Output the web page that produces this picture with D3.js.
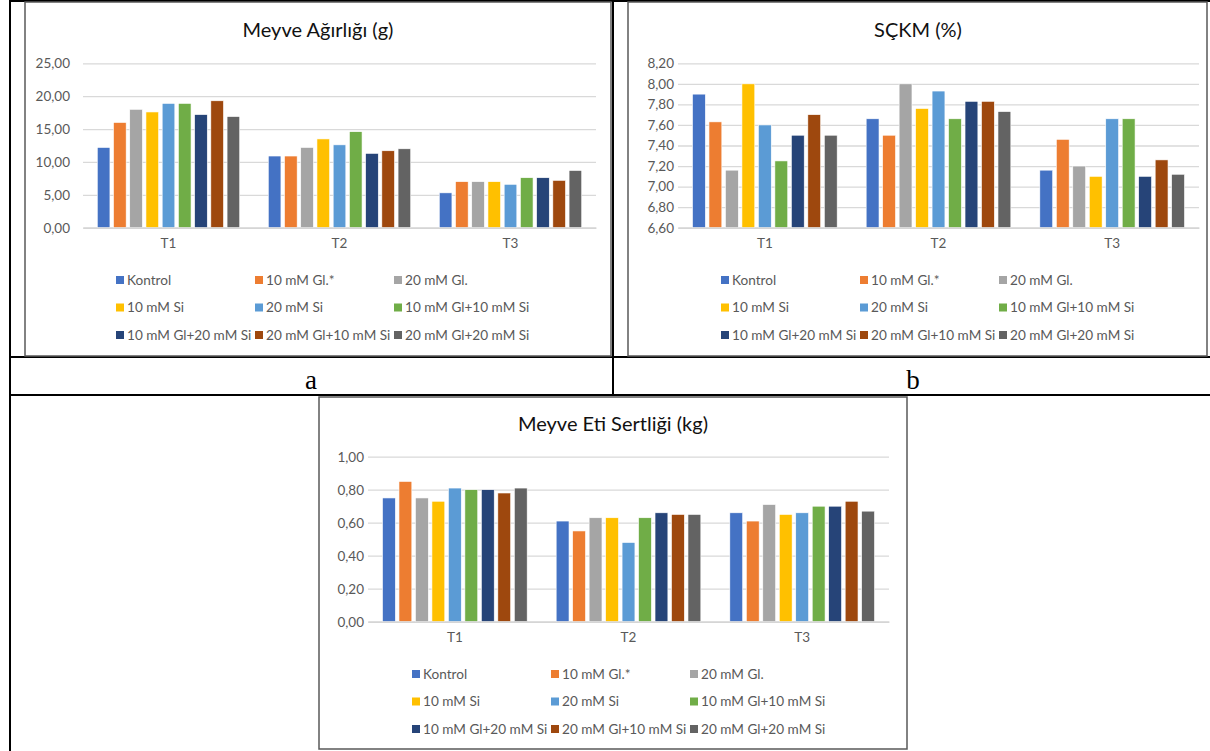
<!DOCTYPE html>
<html>
<head>
<meta charset="utf-8">
<script src="https://cdn.jsdelivr.net/npm/d3@7"></script>
<style>
  html, body { margin: 0; padding: 0; background: #fff; }
  svg { display: block; }
  text { font-family: Lato, "Open Sans", sans-serif; }
</style>
</head>
<body>
<svg id="page" width="1210" height="751"></svg>
<script>
// Sampling times
const categories = ["T1", "T2", "T3"];

// Treatments (legend order)
const treatments = [
  "Kontrol", "10 mM Gl.*", "20 mM Gl.",
  "10 mM Si", "20 mM Si", "10 mM Gl+10 mM Si",
  "10 mM Gl+20 mM Si", "20 mM Gl+10 mM Si", "20 mM Gl+20 mM Si"
];

const treatmentColors = [
  "#4472C4", "#ED7D31", "#A5A5A5",
  "#FFC000", "#5B9BD5", "#70AD47",
  "#264478", "#9E480E", "#636363"
];

// Fruit weight (g): one row per treatment, values for T1, T2, T3
const fruitWeight = [
  [12.2, 10.9, 5.3],
  [16.0, 10.9, 7.0],
  [18.0, 12.2, 7.0],
  [17.6, 13.5, 7.0],
  [18.9, 12.6, 6.6],
  [18.9, 14.6, 7.6],
  [17.2, 11.3, 7.6],
  [19.3, 11.7, 7.2],
  [16.9, 12.0, 8.7]
];

// Soluble solids (%)
const solubleSolids = [
  [7.90, 7.66, 7.16],
  [7.63, 7.50, 7.46],
  [7.16, 8.00, 7.20],
  [8.00, 7.76, 7.10],
  [7.60, 7.93, 7.66],
  [7.25, 7.66, 7.66],
  [7.50, 7.83, 7.10],
  [7.70, 7.83, 7.26],
  [7.50, 7.73, 7.12]
];

// Flesh firmness (kg)
const fleshFirmness = [
  [0.75, 0.61, 0.66],
  [0.85, 0.55, 0.61],
  [0.75, 0.63, 0.71],
  [0.73, 0.63, 0.65],
  [0.81, 0.48, 0.66],
  [0.80, 0.63, 0.70],
  [0.80, 0.66, 0.70],
  [0.78, 0.65, 0.73],
  [0.81, 0.65, 0.67]
];

// Y tick labels
const weightTicks = [0, 5, 10, 15, 20, 25];
const solidsTicks = [6.6, 6.8, 7.0, 7.2, 7.4, 7.6, 7.8, 8.0, 8.2];
const firmnessTicks = [0, 0.2, 0.4, 0.6, 0.8, 1.0];

const svg = d3.select("#page");
const fmt = v => d3.format(".2f")(v).replace(".", ",");

// Table rules of the surrounding document
const rules = svg.append("g").attr("stroke", "#000").attr("stroke-width", 2);
rules.append("line").attr("x1", 10).attr("x2", 1210).attr("y1", 1).attr("y2", 1);
rules.append("line").attr("x1", 10).attr("x2", 10).attr("y1", 0).attr("y2", 751);
rules.append("line").attr("x1", 613).attr("x2", 613).attr("y1", 0).attr("y2", 395);
rules.append("line").attr("x1", 10).attr("x2", 1210).attr("y1", 357).attr("y2", 357);
rules.append("line").attr("x1", 10).attr("x2", 1210).attr("y1", 395).attr("y2", 395);

svg.append("text").attr("x", 311).attr("y", 389).attr("text-anchor", "middle")
  .style("font-family", "'Liberation Serif', serif").style("font-size", "27px").text("a");
svg.append("text").attr("x", 913).attr("y", 389).attr("text-anchor", "middle")
  .style("font-family", "'Liberation Serif', serif").style("font-size", "27px").text("b");

function drawChart(cfg) {
  const g = svg.append("g");
  // chart area frame
  g.append("rect")
    .attr("x", cfg.frame[0]).attr("y", cfg.frame[1])
    .attr("width", cfg.frame[2] - cfg.frame[0]).attr("height", cfg.frame[3] - cfg.frame[1])
    .attr("fill", "#fff").attr("stroke", "#595959").attr("stroke-width", 1.5);

  g.append("text")
    .attr("x", cfg.titleX).attr("y", cfg.titleY).attr("text-anchor", "middle")
    .attr("fill", "#111").style("font-size", "20px").text(cfg.title);

  const [px0, py0, px1, py1] = cfg.plot;
  const y = d3.scaleLinear().domain(cfg.domain).range([py1, py0]);
  const x0 = d3.scaleBand().domain(categories).range([px0, px1])
    .paddingInner(0.167).paddingOuter(0.0835);
  const x1 = d3.scaleBand().domain(d3.range(treatments.length))
    .range([0, x0.bandwidth()]).paddingInner(0.22).paddingOuter(0);

  // gridlines
  const yAxis = d3.axisLeft(y).tickValues(cfg.ticks).tickSize(-(px1 - px0)).tickFormat(fmt).tickPadding(14);
  const ya = g.append("g").attr("transform", `translate(${px0},0)`).call(yAxis);
  ya.select(".domain").remove();
  ya.selectAll(".tick line").attr("stroke", "#d9d9d9").attr("stroke-width", 1.3);
  ya.selectAll(".tick text").attr("fill", "#595959").style("font-size", "13.5px")
    .attr("x", cfg.tickLabelRight - px0);

  // bars
  treatments.forEach((name, si) => {
    g.append("g").selectAll("rect")
      .data(cfg.values[si].map((v, ci) => ({ v, c: categories[ci] })))
      .join("rect")
      .attr("x", d => x0(d.c) + x1(si))
      .attr("width", x1.bandwidth())
      .attr("y", d => y(d.v))
      .attr("height", d => y(cfg.domain[0]) - y(d.v))
      .attr("fill", treatmentColors[si])
      .attr("stroke", "#fff").attr("stroke-width", 0.6);
  });

  // category axis
  const xa = g.append("g").attr("transform", `translate(0,${py1})`)
    .call(d3.axisBottom(x0).tickSize(0).tickPadding(11));
  xa.select(".domain").attr("stroke", "#d0d0d0").attr("stroke-width", 1.3);
  xa.selectAll(".tick text").attr("fill", "#595959").style("font-size", "13.5px");

  // legend: three columns
  const lg = g.append("g");
  treatments.forEach((name, i) => {
    const col = i % 3, row = Math.floor(i / 3);
    const lx = cfg.legendX + col * 139;
    const ly = cfg.legendY + row * 27.5;
    lg.append("rect").attr("x", lx).attr("y", ly - 4).attr("width", 8).attr("height", 8)
      .attr("fill", treatmentColors[i]);
    lg.append("text").attr("x", lx + 11).attr("y", ly).attr("dy", "0.35em")
      .attr("fill", "#595959").style("font-size", "13.6px").text(name);
  });
}

drawChart({
  title: "Meyve Ağırlığı (g)", titleX: 318, titleY: 37,
  frame: [25, 2, 611, 356],
  plot: [83, 63.3, 596, 227.7],
  tickLabelRight: 70,
  domain: [0, 25], ticks: weightTicks, values: fruitWeight,
  legendX: 116, legendY: 280
});

drawChart({
  title: "SÇKM (%)", titleX: 918, titleY: 37,
  frame: [628, 2, 1207, 356],
  plot: [678, 63.3, 1199, 227.7],
  tickLabelRight: 674,
  domain: [6.6, 8.2], ticks: solidsTicks, values: solubleSolids,
  legendX: 721, legendY: 280
});

drawChart({
  title: "Meyve Eti Sertliği (kg)", titleX: 613, titleY: 431,
  frame: [319, 397, 907, 749],
  plot: [368, 456.7, 889, 621.7],
  tickLabelRight: 364,
  domain: [0, 1], ticks: firmnessTicks, values: fleshFirmness,
  legendX: 412, legendY: 674
});
</script>
</body>
</html>
